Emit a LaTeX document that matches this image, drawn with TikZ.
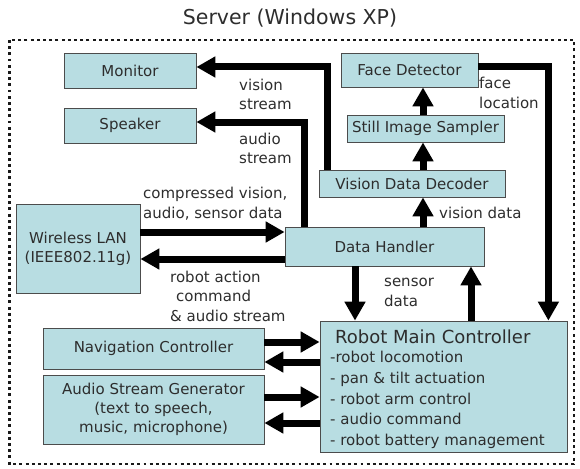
\documentclass[tikz,border=0pt]{standalone}
\usepackage{fontspec}
\setmainfont{DejaVu Sans}
\usetikzlibrary{arrows.meta}
\definecolor{boxfill}{RGB}{184,221,226}
\definecolor{txt}{RGB}{45,45,45}
\begin{document}
\begin{tikzpicture}[x=1pt,y=-1pt,
  box/.style={draw=black!70, line width=0.8pt, fill=boxfill, text=txt,
    font=\fontsize{15}{19}\selectfont, align=center, inner sep=0},
  lbl/.style={text=txt, font=\fontsize{15}{19.5}\selectfont, align=left, inner sep=0, anchor=west},
  arr/.style={line width=7pt, -{Triangle[width=20pt,length=19pt]}, line join=miter},
  frame/.style={line width=2.9pt, dash pattern=on 2.9pt off 3.3pt, black!90}
]
\useasboundingbox (0,0) rectangle (580,468);

% title and frame
\node[text=txt, font=\fontsize{20.5}{24}\selectfont, inner sep=0] (title) at (290,18) {Server (Windows XP)};
\draw[frame] (9.5,40) rectangle (574,464);

% boxes
\node[box, minimum width=132pt, minimum height=35pt] (mon)  at (130,70.5)  {Monitor};
\node[box, minimum width=132pt, minimum height=35pt] (spk)  at (130,125.5) {Speaker};
\node[box, minimum width=137pt, minimum height=34pt] (fd)   at (409.5,70)  {Face Detector};
\node[box, minimum width=157pt, minimum height=27pt] (sis)  at (425.5,128.5) {Still Image Sampler};
\node[box, minimum width=186pt, minimum height=27pt] (vdd)  at (412,183.5) {Vision Data Decoder};
\node[box, minimum width=199pt, minimum height=39pt] (dh)   at (384.5,246.5) {Data Handler};
\node[box, minimum width=124pt, minimum height=89pt] (wlan) at (78,248.5) {Wireless LAN\\(IEEE802.11g)};
\node[box, minimum width=221pt, minimum height=41pt] (nav)  at (153.5,348.5) {Navigation Controller};
\node[box, minimum width=221pt, minimum height=69pt] (asg)  at (153.5,409.5) {Audio Stream Generator\\(text to speech,\\music, microphone)};
\node[box, minimum width=247pt, minimum height=131pt] (rmc) at (443.5,386.5) {};
\node[text=txt, font=\fontsize{18}{22}\selectfont, inner sep=0, anchor=west] (rmct) at (335,337) {Robot Main Controller};
\node[text=txt, font=\fontsize{15}{20.7}\selectfont, inner sep=0, anchor=west, align=left] (rmcl) at (330,400)
  {-robot locomotion\\- pan \& tilt actuation\\- robot arm control\\- audio command\\- robot battery management};

% coordinates for connector lines
\coordinate (cx) at (423,0);
\coordinate (w1) at (0,232);
\coordinate (w2) at (0,259);
\coordinate (d1) at (355,0);
\coordinate (d2) at (471,0);
\coordinate (n1) at (0,342);
\coordinate (n2) at (0,362);
\coordinate (a1) at (0,397);
\coordinate (a2) at (0,423);

% connectors
\draw[arr] ([xshift=9pt]vdd.north west) |- ([yshift=3.5pt]mon.east);
\draw[arr] ([xshift=20pt]dh.north west) |- ([yshift=3.5pt]spk.east);
\draw[arr] ([yshift=3pt]fd.east) -| ([xshift=-19pt]rmc.north east);
\draw[arr] (dh.north -| cx) -- (vdd.south -| cx);
\draw[arr] (vdd.north -| cx) -- (sis.south -| cx);
\draw[arr] (sis.north -| cx) -- (fd.south -| cx);
\draw[arr] (wlan.east |- w1) -- (dh.west |- w1);
\draw[arr] (dh.west |- w2) -- (wlan.east |- w2);
\draw[arr] (dh.south -| d1) -- (rmc.north -| d1);
\draw[arr] (rmc.north -| d2) -- (dh.south -| d2);
\draw[arr] (nav.east |- n1) -- (rmc.west |- n1);
\draw[arr] (rmc.west |- n2) -- (nav.east |- n2);
\draw[arr] (asg.east |- a1) -- (rmc.west |- a1);
\draw[arr] (rmc.west |- a2) -- (asg.east |- a2);

% labels
\node[lbl] (lvs) at (239,94.5) {vision\\stream};
\node[lbl] (las) at (239,148.5) {audio\\stream};
\node[lbl] (lcv) at (143,203.5) {compressed vision,\\audio, sensor data};
\node[lbl] (lra) at (170,296) {robot action\\\hspace{6pt}command\\\& audio stream};
\node[lbl] (lvd) at (439,213) {vision data};
\node[lbl] (lfl) at (479,93) {face\\location};
\node[lbl] (lsd) at (384,292.5) {sensor\\data};
\end{tikzpicture}
\end{document}
